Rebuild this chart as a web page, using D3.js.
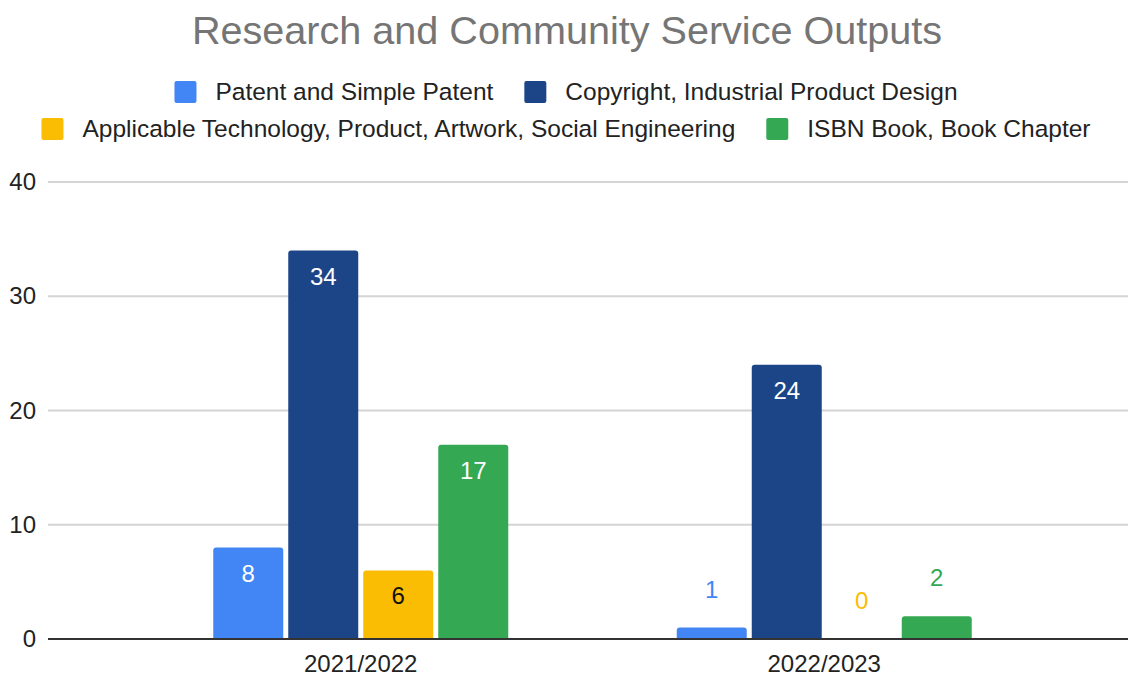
<!DOCTYPE html>
<html>
<head>
  <meta charset="utf-8">
  <title>Research and Community Service Outputs</title>
  <style>
    body { margin: 0; background: #fff; }
    svg { display: block; font-family: "Liberation Sans", Arial, sans-serif; }
  </style>
</head>
<body>
  <script src="https://d3js.org/d3.v7.min.js" charset="utf-8"></script>
  <script type="text/javascript">
    var categories = ['2021/2022', '2022/2023'];
    var seriesNames = [
      'Patent and Simple Patent',
      'Copyright, Industrial Product Design',
      'Applicable Technology, Product, Artwork, Social Engineering',
      'ISBN Book, Book Chapter'
    ];
    var seriesColors = ['#4285f4', '#1c4587', '#fbbc04', '#34a853'];
    var patentValues = [8, 1];
    var copyrightValues = [34, 24];
    var appliedValues = [6, 0];
    var bookValues = [17, 2];
    var yTicks = [0, 10, 20, 30, 40];
    var legendRows = [[0, 1], [2, 3]];

    var seriesValues = [patentValues, copyrightValues, appliedValues, bookValues];

    var svgW = 1128;
    var svgH = 676;
    var fontSize = 24;

    var svg = d3.select('body').append('svg')
      .attr('width', svgW).attr('height', svgH);

    svg.append('rect').attr('width', svgW).attr('height', svgH).attr('fill', '#fff');

    // title
    svg.append('text')
      .attr('x', 567).attr('y', 44)
      .attr('text-anchor', 'middle')
      .attr('font-size', '39.6px')
      .attr('fill', '#757575')
      .text('Research and Community Service Outputs');

    // legend, each row centred
    var rowY = [92, 129];
    legendRows.forEach(function(row, r) {
      var g = svg.append('g');
      var x = 0;
      row.forEach(function(s, k) {
        g.append('rect')
          .attr('x', x).attr('y', rowY[r] - 11)
          .attr('width', 22).attr('height', 22)
          .attr('rx', 2)
          .attr('fill', seriesColors[s]);
        var t = g.append('text')
          .attr('x', x + 41).attr('y', rowY[r] + 8)
          .attr('font-size', '24.5px')
          .attr('fill', '#222')
          .text(seriesNames[s]);
        x += 41 + t.node().getComputedTextLength() + 31;
      });
      var total = x - 31;
      g.attr('transform', 'translate(' + (566 - total / 2) + ',0)');
    });

    // scales
    var y = d3.scaleLinear().domain([0, 40]).range([639, 182]);
    var x0 = d3.scaleBand().domain(categories).range([129, 1056]);
    var x1 = d3.scaleBand().domain(d3.range(seriesNames.length))
      .range([0, 295]).paddingInner(1 / 15);
    var groupOffset = (x0.bandwidth() - 295) / 2;

    // gridlines + y labels
    svg.selectAll('line.grid').data(yTicks).enter().append('line')
      .attr('class', 'grid')
      .attr('x1', 48).attr('x2', svgW)
      .attr('y1', function(d) { return y(d); })
      .attr('y2', function(d) { return y(d); })
      .attr('stroke', function(d) { return d === 0 ? '#333' : '#d4d4d4'; })
      .attr('stroke-width', 2);

    svg.selectAll('text.ytick').data(yTicks).enter().append('text')
      .attr('class', 'ytick')
      .attr('x', 36)
      .attr('y', function(d) { return y(d) + 8; })
      .attr('text-anchor', 'end')
      .attr('font-size', fontSize + 'px')
      .attr('fill', '#222')
      .text(function(d) { return d; });

    // bars
    var groups = svg.selectAll('g.cat').data(categories).enter().append('g')
      .attr('class', 'cat')
      .attr('transform', function(d) { return 'translate(' + (x0(d) + groupOffset) + ',0)'; });

    groups.each(function(cat, ci) {
      var g = d3.select(this);
      var cells = seriesValues.map(function(vals, si) { return { s: si, v: vals[ci] }; });

      g.selectAll('path.bar').data(cells.filter(function(c) { return c.v > 0; })).enter().append('path')
        .attr('class', 'bar')
        .attr('fill', function(c) { return seriesColors[c.s]; })
        .attr('d', function(c) {
          var bx = x1(c.s), bw = x1.bandwidth(), top = y(c.v), bot = y(0) - 1, r = 3;
          return 'M' + bx + ',' + bot + 'V' + (top + r) + 'Q' + bx + ',' + top + ' ' + (bx + r) + ',' + top +
            'H' + (bx + bw - r) + 'Q' + (bx + bw) + ',' + top + ' ' + (bx + bw) + ',' + (top + r) + 'V' + bot + 'Z';
        });

      g.selectAll('text.val').data(cells).enter().append('text')
        .attr('class', 'val')
        .attr('x', function(c) { return x1(c.s) + x1.bandwidth() / 2; })
        .attr('y', function(c) {
          var h = y(0) - y(c.v);
          return h > 40 ? y(c.v) + 34 : y(c.v) - 30;
        })
        .attr('text-anchor', 'middle')
        .attr('font-size', fontSize + 'px')
        .attr('fill', function(c) {
          var h = y(0) - y(c.v);
          if (h > 40) return c.s === 2 ? '#111' : '#fff';
          return seriesColors[c.s];
        })
        .text(function(c) { return c.v; });
    });

    // category labels
    svg.selectAll('text.xtick').data(categories).enter().append('text')
      .attr('class', 'xtick')
      .attr('x', function(d) { return x0(d) + x0.bandwidth() / 2; })
      .attr('y', 672)
      .attr('text-anchor', 'middle')
      .attr('font-size', fontSize + 'px')
      .attr('fill', '#222')
      .text(function(d) { return d; });
  </script>
</body>
</html>
